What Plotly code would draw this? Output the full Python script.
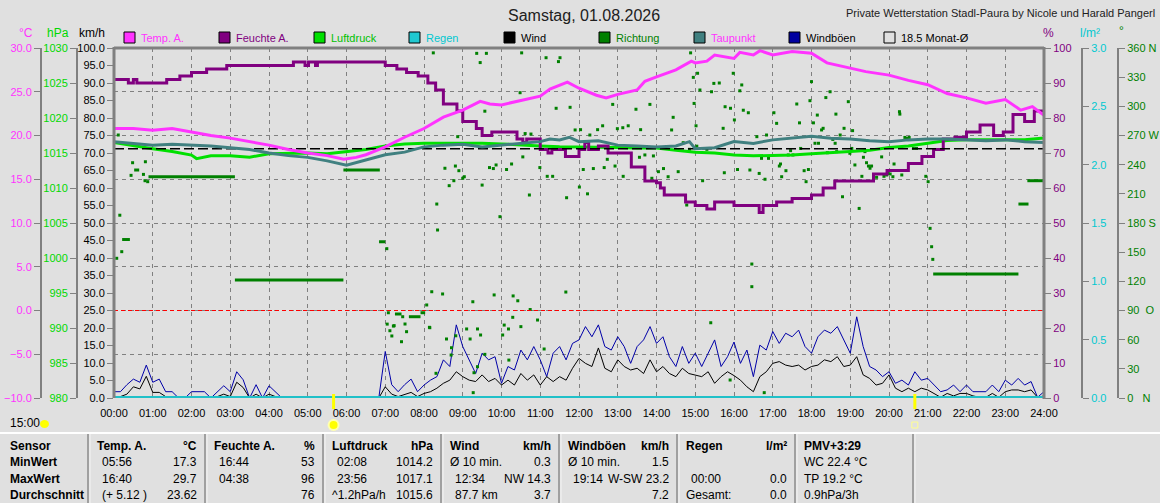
import plotly.graph_objects as go

W, H = 1160, 503

# ---------------------------------------------------------------
# Daten (aus dem Tagesdiagramm abgelesen)
# ---------------------------------------------------------------
# 10-Minuten-Raster 00:00 .. 24:00 (Stunden)
ZEIT_10MIN = [i / 6 for i in range(145)]

WIND_KMH = [
    0.4, 0.4, 1.1, 3.2, 2.6, 6.2,     # 00
    1.6, 1.6, 0.4, 0.4, 0.0, 0.0,     # 01
    0.4, 0.4, 0.4, 0.0, 0.4, 1.1,     # 02
    0.4, 4.5, 3.0, 0.0, 1.1, 0.0,     # 03
    1.1, 0.4, 0.0, 0.0, 0.0, 0.0,     # 04
    0.0, 0.0, 0.0, 0.0, 0.0, 0.0,     # 05
    0.0, 0.0, 0.0, 0.0, 0.0, 0.0,     # 06
    3.2, 1.1, 0.4, 1.1, 1.6, 0.4,     # 07
    1.3, 1.8, 2.8, 4.2, 5.1, 7.5,     # 08
    6.1, 5.1, 4.7, 6.6, 4.7, 5.6,     # 09
    3.7, 5.1, 3.7, 7.0, 5.1, 6.6,     # 10
    3.7, 6.1, 4.7, 6.1, 5.1, 8.5,     # 11
    11.3, 9.9, 9.0, 14.3, 8.5, 7.5,   # 12
    10.9, 9.0, 8.0, 8.5, 7.0, 10.9,   # 13
    7.5, 9.0, 7.0, 6.1, 8.5, 7.0,     # 14
    6.6, 6.1, 7.5, 4.2, 6.1, 7.5,     # 15
    6.4, 5.1, 3.2, 1.8, 6.1, 7.5,     # 16
    9.9, 10.4, 9.4, 9.0, 9.4, 8.0,    # 17
    9.0, 9.4, 10.9, 10.4, 11.8, 9.0,  # 18
    9.4, 11.8, 6.6, 5.6, 3.7, 4.2,    # 19
    6.6, 2.8, 1.8, 2.8, 1.8, 2.8,     # 20
    2.3, 1.3, 0.2, 1.3, 0.6, 1.3,     # 21
    1.3, 0.6, 0.2, 0.2, 1.3, 0.2,     # 22
    1.8, 2.3, 2.3, 1.8, 2.3, 0.2,     # 23
    0.6,
]

BOEEN_KMH = [
    1.8, 1.8, 3.8, 5.4, 4.5, 9.4,       # 00
    4.5, 5.4, 1.8, 1.8, 0.0, 0.0,       # 01
    1.8, 1.8, 1.8, 0.0, 1.8, 3.5,       # 02
    1.8, 7.5, 5.2, 0.0, 3.8, 0.0,       # 03
    3.5, 1.8, 0.0, 0.0, 0.0, 0.0,       # 04
    0.0, 0.0, 0.0, 0.0, 0.0, 0.0,       # 05
    0.0, 0.0, 0.0, 0.0, 0.0, 0.0,       # 06
    13.3, 3.8, 1.8, 3.8, 5.4, 1.8,      # 07
    3.7, 5.1, 6.1, 10.9, 9.0, 20.9,     # 08
    14.7, 10.9, 7.0, 12.8, 10.9, 11.8,  # 09
    4.2, 9.0, 8.0, 13.7, 10.9, 14.7,    # 10
    10.9, 6.1, 12.8, 14.7, 10.9, 15.6,  # 11
    16.6, 20.4, 17.5, 20.9, 14.7, 13.7, # 12
    17.5, 14.7, 9.9, 14.7, 16.6, 20.4,  # 13
    15.6, 17.5, 11.8, 9.0, 14.7, 9.9,   # 14
    12.8, 9.0, 12.8, 16.6, 9.0, 11.8,   # 15
    16.0, 9.9, 13.7, 6.1, 15.1, 13.7,   # 16
    19.0, 15.6, 18.5, 17.5, 19.4, 14.7, # 17
    12.8, 17.5, 19.4, 18.5, 20.4, 16.6, # 18
    12.8, 23.2, 14.7, 9.0, 8.0, 6.1,    # 19
    7.5, 4.2, 5.1, 3.7, 7.5, 5.1,       # 20
    5.6, 3.7, 1.8, 2.3, 3.7, 1.8,       # 21
    3.7, 1.8, 1.8, 1.8, 3.7, 1.8,       # 22
    5.1, 3.7, 5.6, 3.7, 4.7, 0.2,       # 23
    1.8,
]

TEMP_ZEIT = [0, 0.5, 1, 1.5, 2, 2.5, 3, 3.5, 4, 4.5, 5, 5.5, 5.93, 6.25, 6.5,
             7, 7.5, 8, 8.5, 9, 9.45, 9.7, 10, 10.5, 11, 11.25, 11.7, 12,
             12.45, 12.7, 13, 13.5, 13.7, 14, 14.5, 14.9, 15.0, 15.3, 15.5,
             16, 16.15, 16.5, 16.67, 17, 17.5, 18, 18.4, 19, 19.4, 20, 20.5,
             21, 21.5, 22, 22.5, 23, 23.4, 23.7, 24]
TEMP_C = [20.8, 20.8, 20.6, 20.8, 20.4, 20.0, 19.7, 19.3, 18.9, 18.4, 18.0,
          17.7, 17.3, 17.5, 17.8, 18.7, 19.8, 20.8, 22.1, 22.9, 23.9, 23.6,
          23.5, 24.0, 24.5, 25.3, 26.1, 25.4, 24.6, 24.3, 24.7, 25.2, 26.2,
          26.7, 27.5, 28.5, 28.3, 28.5, 29.2, 28.8, 29.5, 29.2, 29.7, 29.2,
          29.6, 29.4, 28.3, 27.7, 27.3, 26.9, 26.3, 25.8, 24.8, 24.3, 23.7,
          24.1, 22.9, 23.3, 22.3]

TAUPUNKT_ZEIT = [0, 0.5, 1, 1.5, 2, 2.5, 3, 3.5, 4, 4.5, 5, 5.5, 6, 6.5, 7,
                 7.5, 8, 8.5, 9, 9.5, 10, 10.5, 11, 11.25, 11.5, 11.75, 12,
                 12.5, 12.8, 13, 13.5, 14, 14.5, 14.85, 15, 15.5, 16, 16.5,
                 17, 17.5, 18, 18.5, 19, 19.5, 20, 20.5, 21, 21.5, 22, 22.5,
                 23, 23.5, 24]
TAUPUNKT_C = [19.3, 19.1, 18.9, 19.0, 18.9, 18.8, 18.6, 18.4, 18.0, 17.7,
              17.5, 17.1, 16.6, 17.2, 17.8, 18.1, 18.7, 18.9, 19.0, 18.7,
              18.9, 19.1, 19.3, 19.6, 19.5, 19.8, 19.3, 19.4, 19.1, 18.9,
              18.8, 18.7, 18.8, 19.3, 18.5, 18.6, 19.3, 19.1, 19.5, 19.7,
              19.9, 19.7, 19.6, 19.4, 19.3, 19.5, 19.6, 19.6, 19.5, 19.4,
              19.5, 19.3, 19.2]

DRUCK_ZEIT = [0, 0.5, 1, 1.5, 2, 2.13, 2.5, 3, 3.5, 4, 4.5, 5, 5.5, 6, 6.5,
              7, 7.5, 8, 8.5, 9, 9.5, 10, 10.5, 11, 11.5, 12, 12.5, 13, 13.5,
              14, 14.5, 15, 15.5, 16, 16.5, 17, 17.5, 18, 18.5, 19, 19.5, 20,
              20.5, 21, 21.5, 22, 22.5, 23, 23.5, 23.93, 24]
DRUCK_HPA = [1016.5, 1016.0, 1015.6, 1015.2, 1014.7, 1014.2, 1014.6, 1014.6,
             1014.4, 1014.9, 1015.0, 1015.0, 1014.9, 1015.2, 1015.5, 1016.0,
             1016.3, 1016.4, 1016.4, 1016.5, 1016.4, 1016.3, 1016.1, 1016.0,
             1015.9, 1015.9, 1015.8, 1015.8, 1015.7, 1015.7, 1015.4, 1015.1,
             1015.0, 1014.7, 1014.6, 1014.6, 1014.7, 1014.9, 1015.0, 1015.2,
             1015.4, 1015.8, 1016.0, 1016.4, 1016.8, 1016.9, 1016.9, 1016.9,
             1016.9, 1017.1, 1017.1]

FEUCHTE_ZEIT = [0, 0.37, 0.5, 0.59, 1.36, 1.7, 2.0, 2.39, 2.91, 4.63, 4.93,
                5.02, 5.2, 5.25, 7.0, 7.3, 7.55, 7.85, 8.1, 8.3, 8.5, 8.85,
                9.0, 9.35, 9.5, 9.75, 10.4, 10.55, 10.65, 11.0, 11.2, 11.3,
                11.65, 12.0, 12.15, 12.25, 12.5, 12.75, 13.35, 13.7, 14.0,
                14.1, 14.2, 14.75, 15.0, 15.3, 15.5, 16.0, 16.65, 16.75, 17.1,
                17.5, 18.0, 18.3, 18.6, 19.6, 19.95, 20.5, 20.85, 21.15, 21.4,
                21.7, 22.0, 22.35, 22.7, 22.95, 23.2, 23.5, 23.75, 24.0]
FEUCHTE_PROZ = [91, 90, 91, 90, 91, 92, 93, 94, 95, 96, 95, 96, 95, 96, 95,
                94, 93, 92, 90, 88, 84, 82, 79, 77, 75, 76, 74, 73, 74, 71,
                70, 71, 69, 71, 73, 71, 72, 70, 66, 62, 61.5, 60, 58, 56, 55,
                54, 56, 55, 53, 55, 56, 57, 58, 60, 62, 64, 65, 67, 69, 71,
                74, 74.5, 76, 78, 75, 76, 81, 79, 82, 82]

REGEN_ZEIT = [0, 24]
REGEN_MM = [0.0, 0.0]

# Windrichtung: Einzelwerte (Stunde, Grad)
RICHTUNG_ZEIT = [
    0.07, 0.11, 0.15, 0.20, 0.44, 0.48, 0.76, 0.81, 0.80, 0.87,
    7.04, 7.08, 7.05, 7.17, 7.21, 7.12, 7.23, 7.42, 7.55, 7.45, 7.51,
    8.07, 8.14, 8.20, 8.15, 8.24, 8.31, 8.33, 8.35, 8.48, 8.54, 8.58, 8.65,
    8.70, 8.71, 8.77, 8.81, 8.82, 8.87, 8.90, 9.00, 9.04, 9.10, 9.19, 9.26,
    9.27, 9.29, 9.36, 9.38, 9.38, 9.45, 9.46, 9.50, 9.57, 9.57, 9.61, 9.69,
    9.79, 9.81, 9.86, 9.96, 10.03, 10.07, 10.13, 10.18, 10.19, 10.26, 10.29,
    10.30, 10.42, 10.48, 10.50, 10.52, 10.55, 10.61, 10.72, 10.74, 10.76,
    10.93, 10.99, 11.10, 11.15, 11.18, 11.32, 11.41, 11.47, 11.51, 11.66,
    11.68, 11.77, 11.90, 12.01, 12.04, 12.11, 12.22, 12.28, 12.37, 12.48,
    12.61, 12.65, 12.73, 12.87, 12.93, 12.99, 13.13, 13.14, 13.27, 13.47,
    13.56, 13.59, 13.70, 13.83, 13.88, 13.92, 14.05, 14.18, 14.30, 14.39,
    14.43, 14.56, 14.69, 14.78, 14.85, 14.88, 14.95, 14.97, 15.02, 15.04,
    15.06, 15.12, 15.19, 15.30, 15.40, 15.42, 15.48, 15.62, 15.72, 15.75,
    15.77, 15.90, 15.91, 15.98, 16.01, 16.09, 16.15, 16.20, 16.24, 16.37,
    16.41, 16.46, 16.46, 16.59, 16.65, 16.71, 16.78, 16.80, 16.84, 16.89,
    17.03, 17.10, 17.17, 17.20, 17.23, 17.34, 17.40, 17.46, 17.52, 17.62,
    17.69, 17.72, 17.81, 17.86, 17.92, 17.96, 18.00, 18.05, 18.09, 18.15,
    18.18, 18.26, 18.30, 18.37, 18.41, 18.48, 18.55, 18.61, 18.63, 18.65,
    18.74, 18.80, 18.84, 18.95, 18.99, 19.04, 19.06, 19.12, 19.23, 19.30,
    19.34, 19.38, 19.42, 19.47, 19.51, 19.55, 19.60, 19.68, 19.81, 19.87,
    19.94, 19.98, 20.03, 20.10, 20.13, 20.27, 20.28, 20.33, 20.41, 20.46,
    20.52, 20.63, 20.71, 20.95, 21.01, 21.06, 21.10, 21.13,
]
RICHTUNG_GRAD = [
    143.7, 270.5, 188, 150.5, 229, 242, 230, 243, 223.5, 222.5,
    153.6, 87.7, 76, 63.8, 74, 69.2, 74.4, 57.9, 68.2, 83.6, 76.1,
    95.7, 72.7, 109.3, 72.3, 355, 25.4, 199.5, 172.8, 107, 236.3, 60.7, 218.4,
    44.2, 51.7, 223.5, 238.6, 64, 268.8, 233.8, 226, 227.6, 71, 60.7, 99,
    5.5, 26, 354.5, 71, 32.2, 345, 64.8, 219, 295, 44.9, 354.5, 237,
    236, 106, 239.7, 186.5, 64.8, 75, 235, 71, 39, 240.7, 83,
    105, 100, 314, 73.4, 355, 248, 272, 208.8, 91, 271.5,
    80.2, 237, 50.4, 350, 228, 228, 298, 346, 350, 109,
    206, 299, 275.7, 217, 276, 235, 210, 270.5, 236, 276,
    280, 237, 245.5, 302, 238.6, 277, 278, 228, 280, 297,
    247.6, 276, 250, 302, 226, 249, 232.8, 236, 227.6, 275.7,
    288.7, 232.8, 262.6, 198.5, 255.8, 355, 329.8, 303, 280, 259,
    334, 316.8, 223.5, 255.8, 77.4, 315, 323.6, 324, 277.4, 231.7,
    299.6, 18.5, 298, 334, 286, 235, 316, 322, 296, 293.4,
    234.5, 114.5, 137.8, 268.8, 231, 246.5, 5.5, 225, 270.5, 246.5,
    293.4, 282.5, 238.6, 240.7, 227.6, 233.8, 250, 254.4, 250, 302.4,
    283, 256.7, 233.8, 222.5, 235, 305.8, 325.4, 283, 262, 291,
    262, 275.7, 277.4, 309, 252.3, 315, 266, 262, 292, 253.4,
    270.5, 207, 277.4, 304.8, 251.7, 256.7, 275, 239.7, 195, 228,
    247.6, 253.4, 242, 238.6, 236.3, 238.6, 229.4, 227, 248, 228,
    229.4, 231, 230.4, 227.6, 240.7, 294.5, 292, 229.4, 268, 267,
    268, 256.7, 256.7, 228, 222.5, 174.5, 155.6, 142.6,
]

# Windrichtung: gleichbleibende Phasen (Beginn, Ende, Grad)
RICHTUNG_BLOCK_START = [0.21, 0.52, 0.89, 3.12, 5.92, 6.84, 7.25, 7.61, 7.91, 21.14, 23.34, 23.57]
RICHTUNG_BLOCK_ENDE = [0.41, 0.65, 3.12, 5.92, 6.86, 7.00, 7.42, 7.91, 8.03, 23.34, 23.60, 23.98]
RICHTUNG_BLOCK_GRAD = [163, 234.5, 227.6, 121.4, 234.5, 160.7, 86.4, 83.6, 87.7, 127.5, 199.5, 223.5]

MONAT_MITTEL_C = 18.5
FROST_C = 0.0
SONNENAUFGANG = "05:40"
SONNENUNTERGANG = "20:40"

STUNDEN = list(range(25))
STUNDEN_TEXT = [f"{h:02d}:00" for h in STUNDEN]

GRAD_TICKS = [0, 30, 60, 90, 120, 150, 180, 210, 240, 270, 300, 330, 360]
GRAD_TEXT = ["0\u00a0\u00a0\u00a0N", "30", "60", "90\u00a0\u00a0O", "120", "150",
             "180\u00a0S", "210", "240", "270\u00a0W", "300", "330", "360\u00a0N"]

# Tabelle unten: je Spalte Kopf links/rechts und drei Zeilen (links, rechts)
TAB_KOPF_L = ["Temp. A.", "Feuchte A.", "Luftdruck", "Wind", "Windböen", "Regen", "PMV+3:29"]
TAB_KOPF_R = ["°C", "%", "hPa", "km/h", "km/h", "l/m²", ""]
TAB_LINKS = [
    [" 05:56", " 16:40", " (+ 5.12 )"],
    [" 16:44", " 04:38", ""],
    [" 02:08", " 23:56", "^1.2hPa/h"],
    ["Ø 10 min.", " 12:34", " 87.7 km"],
    ["Ø 10 min.", " 19:14", ""],
    ["", " 00:00", "Gesamt:"],
    ["WC 22.4 °C", "TP 19.2 °C", "0.9hPa/3h"],
]
TAB_RECHTS = [
    ["17.3", "29.7", "23.62"],
    ["53", "96", "76"],
    ["1014.2", "1017.1", "1015.6"],
    ["0.3", "NW 14.3", "3.7"],
    ["1.5", "W-SW 23.2", "7.2"],
    ["", "0.0", "0.0"],
    ["", "", ""],
]
TAB_ZEILEN = ["MinWert", "MaxWert", "Durchschnitt"]

# ---------------------------------------------------------------
# Layout-Hilfen (Pixel -> Papierkoordinaten)
# ---------------------------------------------------------------
FONT = "Liberation Sans"
BG = "#E0E0E0"
GRAU = "#808080"
PX0, PX1 = 114, 1044   # Plotfläche links/rechts
PY0, PY1 = 48, 398     # Plotfläche oben/unten
TICK_PT = 11


def px(x):
    return x / W


def py(y):
    return 1 - y / H


def stunde(t):
    h, m = t.split(":")
    return int(h) + int(m) / 60


DOM_X = [px(PX0), px(PX1)]
DOM_Y = [py(PY1), py(PY0)]

fig = go.Figure()

# km/h (y)
fig.add_trace(go.Scatter(x=ZEIT_10MIN, y=BOEEN_KMH, mode="lines",
                         line=dict(color="#0000A8", width=1), yaxis="y"))
fig.add_trace(go.Scatter(x=ZEIT_10MIN, y=WIND_KMH, mode="lines",
                         line=dict(color="#000000", width=1), yaxis="y"))
# l/m² (y2)
fig.add_trace(go.Scatter(x=REGEN_ZEIT, y=REGEN_MM, mode="lines",
                         line=dict(color="#20C0C8", width=4), yaxis="y2"))
# Richtung (y3)
bx, by = [], []
for s, e, g in zip(RICHTUNG_BLOCK_START, RICHTUNG_BLOCK_ENDE, RICHTUNG_BLOCK_GRAD):
    bx += [s, e, None]
    by += [g, g, None]
fig.add_trace(go.Scatter(x=bx, y=by, mode="lines", line=dict(color="#008000", width=3),
                         yaxis="y3"))
fig.add_trace(go.Scatter(x=RICHTUNG_ZEIT, y=RICHTUNG_GRAD, mode="markers",
                         marker=dict(symbol="square", size=3, color="#008000", line_width=0),
                         yaxis="y3"))
# hPa (y4)
fig.add_trace(go.Scatter(x=DRUCK_ZEIT, y=DRUCK_HPA, mode="lines",
                         line=dict(color="#00E000", width=3), yaxis="y4"))
# °C Referenzlinien + Taupunkt (y6 liegt ganz oben)
fig.add_trace(go.Scatter(x=[0, 24], y=[FROST_C, FROST_C], mode="lines",
                         line=dict(color="#FF0000", width=1, dash="4px,3px"), yaxis="y6"))
fig.add_trace(go.Scatter(x=[0, 24], y=[MONAT_MITTEL_C, MONAT_MITTEL_C], mode="lines",
                         line=dict(color="#000000", width=1.5, dash="10px,4px"), yaxis="y6"))
fig.add_trace(go.Scatter(x=TAUPUNKT_ZEIT, y=TAUPUNKT_C, mode="lines",
                         line=dict(color="#408080", width=3), yaxis="y6"))
# % (y5)
fig.add_trace(go.Scatter(x=FEUCHTE_ZEIT, y=FEUCHTE_PROZ, mode="lines", line_shape="hv",
                         line=dict(color="#800080", width=3), yaxis="y5"))
# Temperatur
fig.add_trace(go.Scatter(x=TEMP_ZEIT, y=TEMP_C, mode="lines",
                         line=dict(color="#FF33FF", width=3), yaxis="y6"))


def yachse(farbe, rng, **kw):
    d = dict(range=rng, domain=DOM_Y, showgrid=False, zeroline=False,
             ticks="outside", ticklen=6, tickcolor=GRAU, tickwidth=1,
             showline=True, linecolor=GRAU, linewidth=2, automargin=False,
             tickfont=dict(family=FONT, size=TICK_PT, color=farbe), fixedrange=True)
    d.update(kw)
    return d


fig.update_layout(
    width=W, height=H, margin=dict(l=0, r=0, t=0, b=0),
    paper_bgcolor=BG, plot_bgcolor=BG, showlegend=False,
    xaxis=dict(domain=DOM_X, range=[0, 24], tickmode="array", tickvals=STUNDEN,
               ticktext=STUNDEN_TEXT, ticks="outside", ticklen=5,
               tickcolor="rgba(0,0,0,0)", showgrid=True, gridcolor=GRAU,
               griddash="4px,4px", gridwidth=1, zeroline=False, showline=False,
               tickfont=dict(family=FONT, size=TICK_PT, color="black"), automargin=False),
    yaxis=yachse("black", [0, 100], dtick=5, tickformat=".1f", showline=False),
    yaxis2=yachse("#00C8D0", [0, 3], dtick=0.5, tickformat=".1f", overlaying="y",
                  anchor="free", position=px(1082), side="right"),
    yaxis3=yachse("#008000", [0, 360], tickmode="array", tickvals=GRAD_TICKS,
                  ticktext=GRAD_TEXT, overlaying="y", anchor="free",
                  position=px(1118), side="right"),
    yaxis4=yachse("#00D800", [980, 1030], dtick=5, overlaying="y", anchor="free",
                  position=px(77), side="left"),
    yaxis5=yachse("#800080", [0, 100], dtick=10, overlaying="y", anchor="x",
                  side="right", showline=False),
    yaxis6=yachse("#FF33FF", [-10, 30], dtick=5, tickformat=".1f", overlaying="y",
                  anchor="free", position=px(41), side="left", showgrid=True,
                  gridcolor=GRAU, griddash="4px,4px", gridwidth=1),
)

shapes = []
ann = []


def linie(x0, y0, x1, y1, farbe, breite=1, **kw):
    shapes.append(dict(type="line", xref="paper", yref="paper", x0=px(x0), y0=py(y0),
                       x1=px(x1), y1=py(y1), line=dict(color=farbe, width=breite), **kw))


def text(x, y, s, farbe="black", groesse=12, anker="left", fett=False):
    if fett:
        s = f"<b>{s}</b>"
    ann.append(dict(x=px(x), y=py(y), xref="paper", yref="paper", text=s,
                    showarrow=False, xanchor=anker, yanchor="middle",
                    font=dict(family=FONT, size=groesse, color=farbe)))


# Rahmen der Plotfläche
linie(PX0, PY0, PX1, PY0, GRAU, 3)
linie(PX0, PY0 - 1, PX0, PY1, GRAU, 3)
linie(PX1, PY0 - 1, PX1, PY1 + 1, GRAU, 3)

# Titel
text(584, 16, "Samstag, 01.08.2026", "#202020", 16, "center")
text(1157, 13, "Private Wetterstation Stadl-Paura by Nicole und Harald Pangerl",
     "#202020", 11, "right")

# Einheiten über den Achsen
text(26, 33, "°C", "#FF33FF", 12, "center")
text(58, 33, "hPa", "#00D800", 12, "center")
text(92, 33, "km/h", "black", 12, "center")
text(1048, 33, "%", "#800080", 12, "center")
text(1090, 33, "l/m²", "#00C8D0", 12, "center")
text(1121, 31, "°", "#008000", 12, "center")

# Legende
LEGENDE = [
    ("Temp. A.", "#FF33FF", "#FF33FF"),
    ("Feuchte A.", "#800080", "#800080"),
    ("Luftdruck", "#00E000", "#00C000"),
    ("Regen", "#20C8D0", "#00C8D0"),
    ("Wind", "#000000", "#000000"),
    ("Richtung", "#008000", "#008000"),
    ("Taupunkt", "#408080", "#FF33FF"),
    ("Windböen", "#0000A0", "#000000"),
    (f"{MONAT_MITTEL_C} Monat-Ø", BG, "#000000"),
]
for i, (name, fuell, tfarbe) in enumerate(LEGENDE):
    x0 = 124 + i * 95
    shapes.append(dict(type="rect", xref="paper", yref="paper", x0=px(x0), y0=py(43),
                       x1=px(x0 + 11), y1=py(32), fillcolor=fuell,
                       line=dict(color="black", width=1)))
    text(x0 + 15, 38, name, tfarbe, 11)

# Sonnenauf-/untergang
for t in (SONNENAUFGANG, SONNENUNTERGANG):
    shapes.append(dict(type="line", xref="x", yref="paper", x0=stunde(t), x1=stunde(t),
                       y0=py(394), y1=py(409), line=dict(color="#FFFF00", width=3)))
sx = PX0 + stunde(SONNENAUFGANG) / 24 * (PX1 - PX0)
shapes.append(dict(type="circle", xref="paper", yref="paper", x0=px(sx - 6), x1=px(sx + 6),
                   y0=py(431), y1=py(419), fillcolor="#FFFFB0", line_width=0))
shapes.append(dict(type="circle", xref="paper", yref="paper", x0=px(sx - 4), x1=px(sx + 4),
                   y0=py(429), y1=py(421), fillcolor="#FFFF00", line_width=0))
ux = PX0 + stunde(SONNENUNTERGANG) / 24 * (PX1 - PX0)
shapes.append(dict(type="rect", xref="paper", yref="paper", x0=px(ux - 3), x1=px(ux + 3),
                   y0=py(428), y1=py(422), line=dict(color="#FFFF90", width=1)))
text(8, 423, "15:00", "black", 12)
shapes.append(dict(type="circle", xref="paper", yref="paper", x0=px(40), x1=px(49),
                   y0=py(428), y1=py(420), fillcolor="#FFFF00", line_width=0))

# Tabelle
linie(0, 433, W, 433, "white", 2)
SP_X = [88, 205, 323, 441, 559, 677, 795, 913]
for x in SP_X:
    linie(x, 434, x, H, "#A0A0A0", 2)
    linie(x + 2, 434, x + 2, H, "#F4F4F4", 1)
ZY = [446, 462, 479, 495]
text(8, ZY[0], "Sensor", fett=True)
for r, z in enumerate(TAB_ZEILEN):
    text(8, ZY[r + 1], z, fett=True)
for c in range(7):
    xl, xr = SP_X[c] + 7, SP_X[c + 1] - 6
    text(xl, ZY[0], TAB_KOPF_L[c], fett=True)
    if TAB_KOPF_R[c]:
        text(xr, ZY[0], TAB_KOPF_R[c], anker="right", fett=True)
    for r in range(3):
        if TAB_LINKS[c][r]:
            text(xl + (5 if TAB_LINKS[c][r].startswith(" ") else 0), ZY[r + 1],
                 TAB_LINKS[c][r].strip())
        if TAB_RECHTS[c][r]:
            text(xr, ZY[r + 1], TAB_RECHTS[c][r], anker="right")

fig.update_layout(shapes=shapes, annotations=ann)
fig.write_html("out.html", config={"displayModeBar": False},
               post_script="document.body.style.margin='0';document.body.style.overflow='hidden';")
